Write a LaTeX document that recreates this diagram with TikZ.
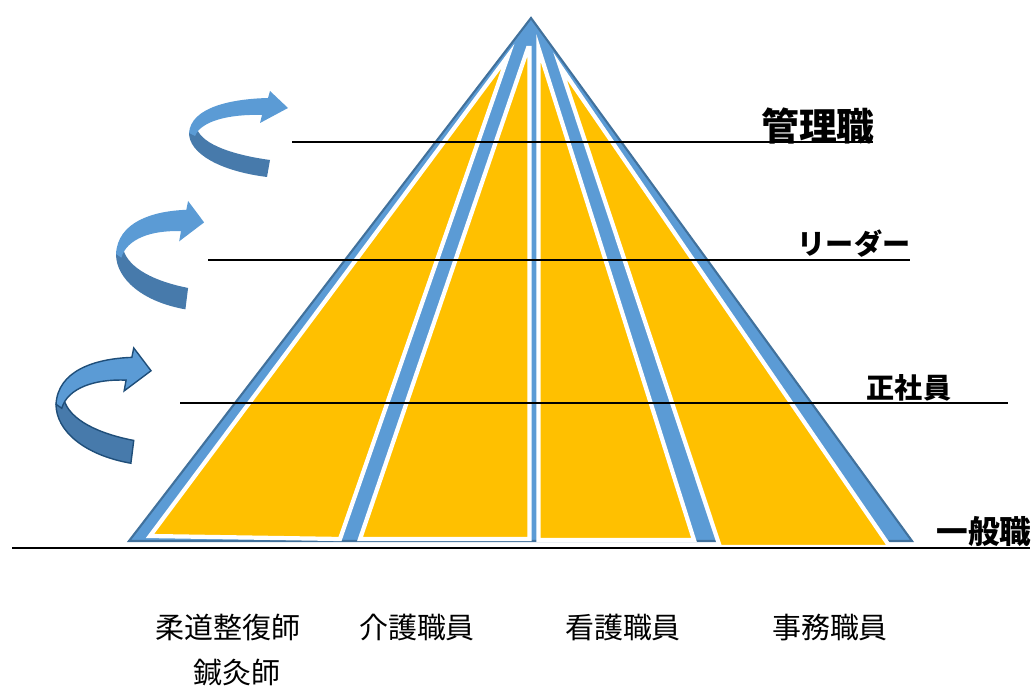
\documentclass[tikz,border=0pt]{standalone}
\usepackage{fontspec}
\newfontfamily\jp{Noto Sans CJK JP}
\newfontfamily\jpheavy{Noto Sans CJK JP Black}

\definecolor{pyblue}{HTML}{5B9BD5}
\definecolor{pyedge}{HTML}{41719C}
\definecolor{pyyellow}{HTML}{FFC000}
\definecolor{arrowdark}{HTML}{477AAB}
\definecolor{arrowline}{HTML}{1F4E79}

\tikzset{
  field/.style={fill=pyyellow, draw=white, line width=2.4pt},
  rule/.style={line width=1pt},
  level/.style={font=\jpheavy},
  job/.style={font=\jp\fontsize{16.5}{19}\selectfont},
  turnline/.style={},
  pics/turnarrow/.style={code={
    \path[fill=arrowdark, turnline] (0,42) .. controls (0,62) and (30,80) .. (78,86)
      -- (81,69) .. controls (45,64) and (14,54) .. (8,38) -- cycle;
    \path[fill=pyblue, turnline] (0,42) .. controls (2,17) and (40,8) .. (79,7)
      -- (81,0) -- (99,17) -- (71,32) -- (73,24)
      .. controls (40,23) and (12,30) .. (6,45) -- cycle;
  }}
}

\begin{document}
\begin{tikzpicture}[x=0.02cm, y=-0.02cm]
\useasboundingbox (0,0) rectangle (1035,688);

% pyramid
\filldraw[fill=pyblue, draw=pyedge, line width=1.2pt] (531,18) -- (129,541) -- (912,541) -- cycle;
\path[field] (508,56) -- (150,536) -- (340,539) -- cycle;
\path[field] (528,48) -- (360,539) -- (529.5,539) -- (529.5,48) -- cycle;
\path[field] (538.5,48) -- (538.5,540) -- (694,540) -- cycle;
\path[field] (560,66) -- (720,547) -- (890,547) -- cycle;

% levels
\draw[rule] (292,142) -- (873,142);
\draw[rule] (208,260) -- (910,260);
\draw[rule] (180,403) -- (1008,403);
\draw[line width=1.3pt] (12,548) -- (1030,548);

% arrows
\pic at (189,91) {turnarrow};
\pic[xscale=0.89, yscale=1.26] at (116,201) {turnarrow};
\pic[xscale=0.96, yscale=1.34, turnline/.style={draw=arrowline, line width=0.8pt}] at (56,348) {turnarrow};

\node[level, font=\jpheavy\fontsize{21.5}{25}\selectfont] (manager) at (818,126) {管理職};
\node[level, font=\jpheavy\fontsize{16}{20}\selectfont] (leader) at (854,244) {リーダー};
\node[level, font=\jpheavy\fontsize{16}{19}\selectfont] (regular) at (909,388) {正社員};
\node[level, font=\jpheavy\fontsize{18}{21}\selectfont] (general) at (984,532) {一般職};

\node[job] (judo) at (228,628) {柔道整復師};
\node[job] (acu) at (237,673) {鍼灸師};
\node[job] (care) at (417,628) {介護職員};
\node[job] (nurse) at (623,628) {看護職員};
\node[job] (office) at (830,628) {事務職員};

\end{tikzpicture}
\end{document}
